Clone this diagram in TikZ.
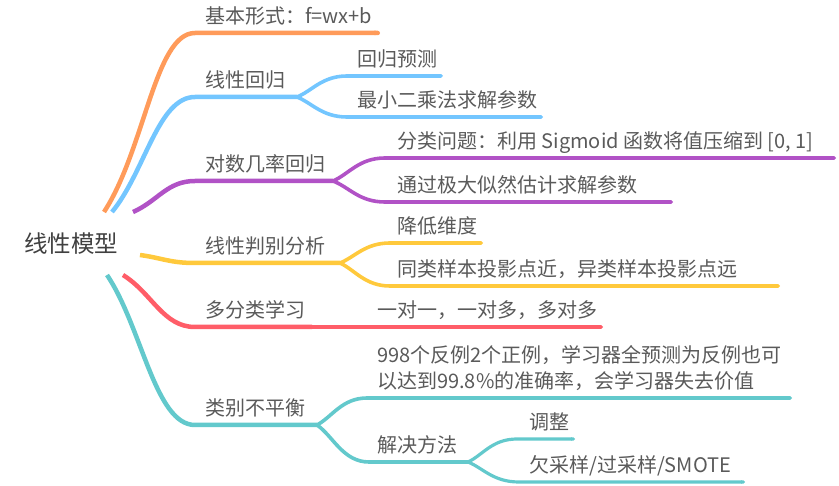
\documentclass[tikz,border=0pt]{standalone}
\usepackage{fontspec}
\setmainfont{Noto Sans CJK SC}
\usetikzlibrary{arrows.meta}
\definecolor{corange}{HTML}{FF9B5A}
\definecolor{cblue}{HTML}{73C6FF}
\definecolor{cpurple}{HTML}{B152C6}
\definecolor{cyellow}{HTML}{FFC93C}
\definecolor{cred}{HTML}{FF5D68}
\definecolor{cteal}{HTML}{63C9CC}
\definecolor{textgray}{HTML}{5A5A5A}
\definecolor{rootgray}{HTML}{404040}
\begin{document}
\begin{tikzpicture}[x=1pt,y=-1pt,
  br/.style={line width=4.5pt, line cap=butt},
  sub/.style={line width=3.6pt, line cap=butt},
  subsub/.style={line width=3.2pt, line cap=butt},
  tipr/.style={-{Round Cap[]}},
  lbl/.style={anchor=base west, inner sep=0pt, text=textgray, font=\fontsize{20}{24}\selectfont},
  rootlbl/.style={anchor=center, inner sep=0pt, text=rootgray, font=\fontsize{23.5}{28}\selectfont}]
\useasboundingbox (0,0) rectangle (839,486);

% root
\node[rootlbl] (root) at (71,244) {线性模型};

% coordinates
\coordinate (S1) at (104,212);
\coordinate (S2) at (112,212);
\coordinate (S3) at (133,212);
\coordinate (S4) at (140,255);
\coordinate (S5) at (123,275);
\coordinate (S6) at (107,275);
\coordinate (E1) at (380,33);
\coordinate (F2) at (297,97);
\coordinate (F3) at (333,181);
\coordinate (F4) at (340,263);
\coordinate (F5) at (312,327);
\coordinate (F6) at (317,425);
\coordinate (F7) at (468,462);
\coordinate (E21) at (443,76);
\coordinate (E22) at (543,117);
\coordinate (E31) at (836,158);
\coordinate (E32) at (673,202);
\coordinate (E41) at (483,243);
\coordinate (E42) at (780,286);
\coordinate (E51) at (603,327);
\coordinate (E61) at (792,398);
\coordinate (E71) at (575,439);
\coordinate (E72) at (745,482);

% main branches
\draw[br,corange,tipr] (S1) .. controls (145,149) and (155,33) .. (195,33) -- (E1);
\draw[br,cblue] (S2) .. controls (145,172) and (158,97) .. (195,97) -- (F2);
\draw[br,cpurple] (S3) .. controls (158,201) and (167,181) .. (195,181) -- (F3);
\draw[br,cyellow] (S4) .. controls (162,258) and (170,263) .. (195,263) -- (F4);
\draw[br,cred] (S5) .. controls (152,293) and (163,327) .. (195,327) -- (F5);
\draw[br,cteal] (S6) .. controls (142,327) and (155,425) .. (195,425) -- (F6);

% children
\draw[sub,cblue,tipr] (F2) .. controls (312,91) and (322,76) .. (347,76) -- (E21);
\draw[sub,cblue,tipr] (F2) .. controls (312,103) and (322,117) .. (347,117) -- (E22);
\draw[sub,cpurple,tipr] (F3) .. controls (349,174) and (359,158) .. (385,158) -- (E31);
\draw[sub,cpurple,tipr] (F3) .. controls (349,187) and (359,202) .. (385,202) -- (E32);
\draw[sub,cyellow,tipr] (F4) .. controls (355,257) and (365,243) .. (390,243) -- (E41);
\draw[sub,cyellow,tipr] (F4) .. controls (355,270) and (365,286) .. (390,286) -- (E42);
\draw[sub,cred,tipr] (F5) -- (E51);
\draw[sub,cteal,tipr] (F6) .. controls (332,417) and (342,398) .. (367,398) -- (E61);
\draw[sub,cteal] (F6) .. controls (333,436) and (343,462) .. (369,462) -- (F7);
\draw[subsub,cteal,tipr] (F7) .. controls (483,455) and (492,439) .. (517,439) -- (E71);
\draw[subsub,cteal,tipr] (F7) .. controls (483,468) and (493,482) .. (519,482) -- (E72);

% labels
\node[lbl] (n1) at (205,24) {基本形式：f=wx+b};
\node[lbl] (n2) at (205,88) {线性回归};
\node[lbl] (n3) at (205,172) {对数几率回归};
\node[lbl] (n4) at (205,254) {线性判别分析};
\node[lbl] (n5) at (205,318) {多分类学习};
\node[lbl] (n6) at (205,416) {类别不平衡};
\node[lbl] (n21) at (357,67) {回归预测};
\node[lbl] (n22) at (357,108) {最小二乘法求解参数};
\node[lbl] (n31) at (397,149) {分类问题：利用 Sigmoid 函数将值压缩到 [0, 1]};
\node[lbl] (n32) at (397,193) {通过极大似然估计求解参数};
\node[lbl] (n41) at (397,234) {降低维度};
\node[lbl] (n42) at (397,277) {同类样本投影点近，异类样本投影点远};
\node[lbl] (n51) at (377,318) {一对一，一对多，多对多};
\node[lbl] (n61a) at (377,363) {998个反例2个正例，学习器全预测为反例也可};
\node[lbl] (n61b) at (377,389) {以达到99.8\%的准确率，会学习器失去价值};
\node[lbl] (n62) at (377,453) {解决方法};
\node[lbl] (n71) at (529,430) {调整};
\node[lbl] (n72) at (529,473) {欠采样/过采样/SMOTE};
\end{tikzpicture}
\end{document}
